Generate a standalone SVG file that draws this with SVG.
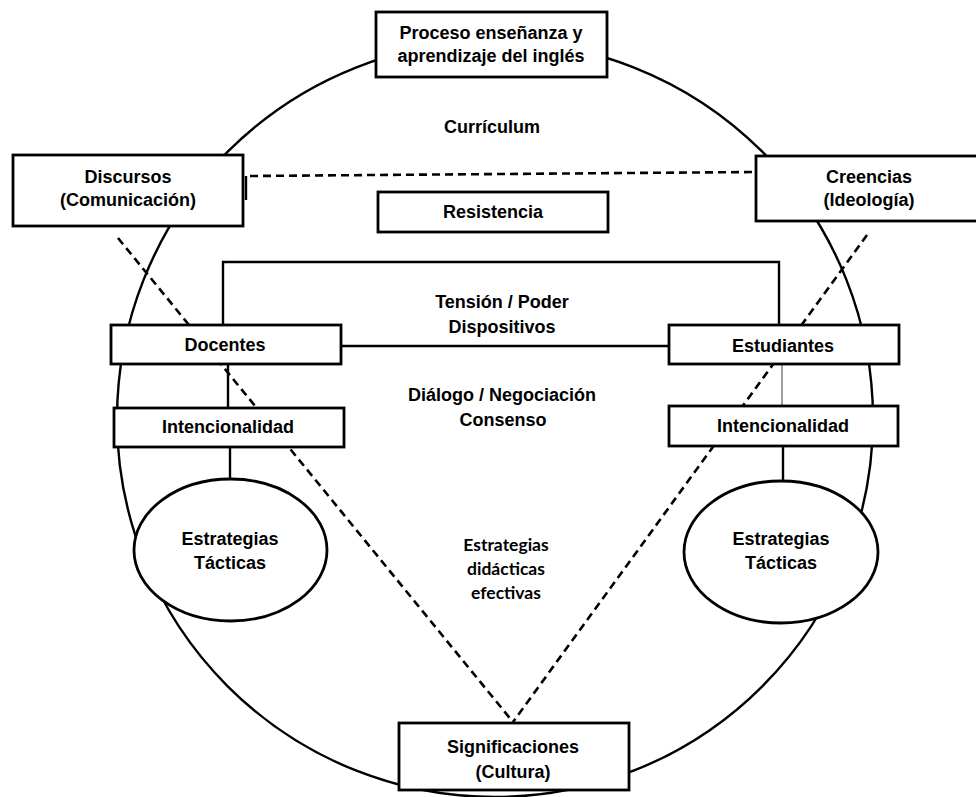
<svg xmlns="http://www.w3.org/2000/svg" width="976" height="797" viewBox="0 0 976 797">
<style>
.bg{fill:#fff}
.ln{fill:none;stroke:#000;stroke-width:2.4}
.gr{fill:none;stroke:#888;stroke-width:1.6}
.dash{fill:none;stroke:#000;stroke-width:2.6;stroke-dasharray:8 5}
.box{fill:#fff;stroke:#000;stroke-width:2.8}
.t{font-family:"Liberation Sans",Arial,sans-serif;font-weight:bold;font-size:18px;text-anchor:middle;fill:#000}
.s{font-family:Lato,"Open Sans",sans-serif;font-weight:bold;font-size:17.5px;text-anchor:middle;fill:#000}
</style>
<rect class="bg" x="0" y="0" width="976" height="797"/>
<g id="connectors">
<circle class="ln" cx="495" cy="419" r="378"/>
<path class="ln" d="M223 325 V262 H779 V325"/>
<path class="ln" d="M341 346 H669"/>
<path class="ln" d="M228 364 V408"/>
<path class="gr" d="M782 364 V406"/>
<path class="ln" d="M230 447 V480"/>
<path class="ln" d="M783 446 V481"/>
<path class="ln" d="M246 176 V200"/>
<path class="dash" d="M250 176 L755 172"/>
<path class="dash" d="M118 238 L513 722"/>
<path class="dash" d="M867 235 L513 722"/>
</g>
<g id="proceso">
<rect class="box" x="376" y="12" width="231" height="65"/>
<text class="t" x="491" y="39">Proceso enseñanza y</text>
<text class="t" x="491" y="62">aprendizaje del inglés</text>
</g>
<g id="curriculum">
<text class="t" x="492" y="133">Currículum</text>
</g>
<g id="discursos">
<rect class="box" x="13" y="155" width="230" height="71"/>
<text class="t" x="128" y="183">Discursos</text>
<text class="t" x="128" y="206">(Comunicación)</text>
</g>
<g id="creencias">
<rect class="box" x="756" y="156" width="230" height="65"/>
<text class="t" x="869" y="183">Creencias</text>
<text class="t" x="869" y="206">(Ideología)</text>
</g>
<g id="resistencia">
<rect class="box" x="378" y="192" width="230" height="40"/>
<text class="t" x="493" y="218">Resistencia</text>
</g>
<g id="tension">
<text class="t" x="502" y="308">Tensión / Poder</text>
<text class="t" x="502" y="333">Dispositivos</text>
</g>
<g id="docentes">
<rect class="box" x="111" y="325" width="230" height="39"/>
<text class="t" x="225" y="351">Docentes</text>
</g>
<g id="estudiantes">
<rect class="box" x="669" y="325" width="230" height="39"/>
<text class="t" x="783" y="352">Estudiantes</text>
</g>
<g id="dialogo">
<text class="t" x="502" y="401">Diálogo / Negociación</text>
<text class="t" x="503" y="426">Consenso</text>
</g>
<g id="intencionalidad-izq">
<rect class="box" x="114" y="408" width="230" height="39"/>
<text class="t" x="228" y="433">Intencionalidad</text>
</g>
<g id="intencionalidad-der">
<rect class="box" x="669" y="406" width="229" height="40"/>
<text class="t" x="783" y="432">Intencionalidad</text>
</g>
<g id="estrategias-izq">
<ellipse class="box" cx="230.5" cy="550" rx="96.5" ry="71"/>
<text class="t" x="230" y="545">Estrategias</text>
<text class="t" x="230" y="569">Tácticas</text>
</g>
<g id="estrategias-der">
<ellipse class="box" cx="781" cy="552" rx="97" ry="71"/>
<text class="t" x="781" y="545">Estrategias</text>
<text class="t" x="781" y="569">Tácticas</text>
</g>
<g id="estrategias-didacticas">
<text class="s" x="506" y="551">Estrategias</text>
<text class="s" x="506" y="575">didácticas</text>
<text class="s" x="506" y="599">efectivas</text>
</g>
<g id="significaciones">
<rect class="box" x="399" y="723" width="230" height="67"/>
<text class="t" x="513" y="753">Significaciones</text>
<text class="t" x="513" y="778">(Cultura)</text>
</g>
</svg>
